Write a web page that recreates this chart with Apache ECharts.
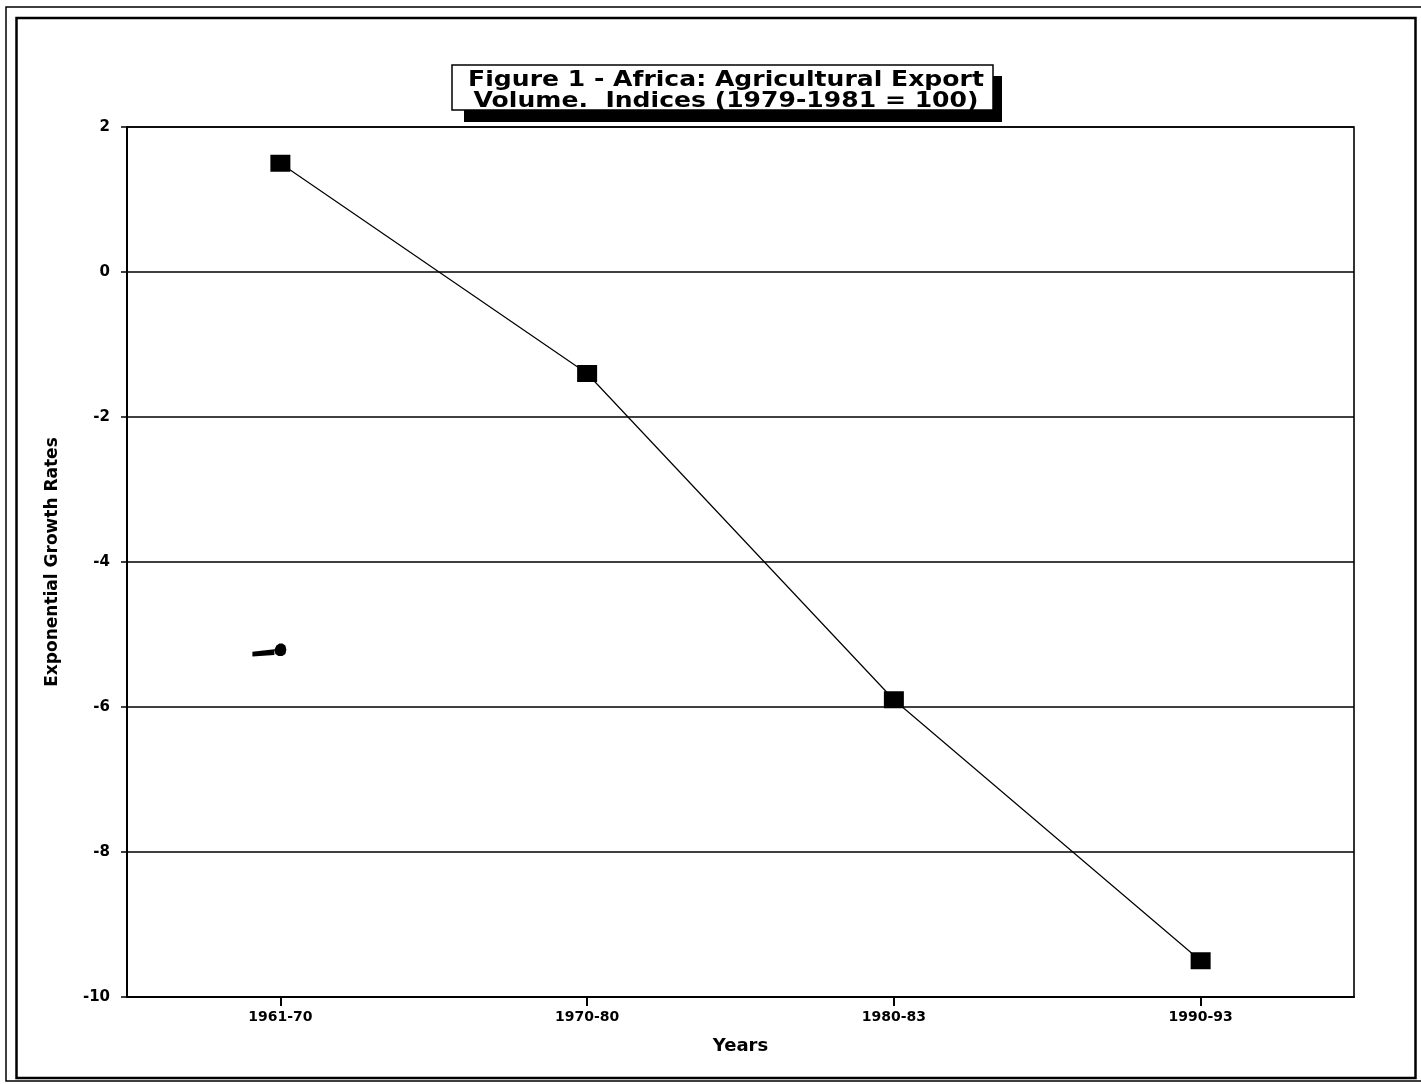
<!DOCTYPE html>
<html>
<head>
<meta charset="utf-8">
<title>Africa: Agricultural Export Volume</title>
<script src="https://cdn.jsdelivr.net/npm/echarts@6/dist/echarts.min.js"></script>
<style>
  html, body { margin: 0; padding: 0; background: #fff; }
  #chart { width: 1421px; height: 1084px; }
</style>
</head>
<body>
<div id="chart"></div>
<script>
// Periods on the horizontal axis
const periods = ['1961-70', '1970-80', '1980-83', '1990-93'];
// Exponential growth rates of agricultural export volume (%)
const growthRates = [1.5, -1.4, -5.9, -9.5];
// Stray pen mark near the first period
const strayMark = [-5.2, null, null, null];
// Value axis range and step
const yMin = -10;
const yMax = 2;
const yStep = 2;

const FONT = '"DejaVu Sans", "Liberation Sans", Arial, sans-serif';
const chart = echarts.init(document.getElementById('chart'), null, { renderer: 'canvas' });

const option = {
  backgroundColor: '#ffffff',
  animation: false,
  grid: {
    left: 127, top: 127, right: 67, bottom: 87,
    show: true, borderColor: '#000', borderWidth: 1.6, backgroundColor: 'transparent'
  },
  xAxis: {
    type: 'category',
    data: periods,
    boundaryGap: true,
    name: 'Years',
    nameLocation: 'middle',
    nameGap: 40,
    nameTextStyle: { fontFamily: FONT, fontWeight: 'bold', fontSize: 18, color: '#000' },
    axisLine: { show: true, onZero: false, lineStyle: { color: '#000', width: 2 } },
    axisTick: { show: true, alignWithLabel: true, inside: false, length: 9, lineStyle: { color: '#000', width: 2 } },
    axisLabel: { fontFamily: FONT, fontWeight: 'bold', fontSize: 14, color: '#000', margin: 13 },
    splitLine: { show: false }
  },
  yAxis: {
    type: 'value',
    min: yMin, max: yMax, interval: yStep,
    name: 'Exponential Growth Rates',
    nameLocation: 'middle',
    nameGap: 66,
    nameRotate: 90,
    nameTextStyle: { fontFamily: FONT, fontWeight: 'bold', fontSize: 17, color: '#000' },
    axisLine: { show: true, onZero: false, lineStyle: { color: '#000', width: 2 } },
    axisTick: { show: true, inside: false, length: 6, lineStyle: { color: '#000', width: 1.5 } },
    axisLabel: { fontFamily: FONT, fontWeight: 'bold', fontSize: 15, color: '#000', margin: 17 },
    splitLine: { show: true, lineStyle: { color: '#000', width: 1.6 } }
  },
  graphic: [
    // outer double frame
    { type: 'rect', z: 0, silent: true,
      shape: { x: 6, y: 7, width: 1420, height: 1074 },
      style: { fill: 'none', stroke: '#000', lineWidth: 1.5 } },
    { type: 'rect', z: 0, silent: true,
      shape: { x: 16.5, y: 18, width: 1399, height: 1060 },
      style: { fill: 'none', stroke: '#000', lineWidth: 2.5 } },
    // title box shadow
    { type: 'rect', z: 10, silent: true,
      shape: { x: 464, y: 76, width: 538, height: 46 },
      style: { fill: '#000' } },
    // title box
    { type: 'rect', z: 11, silent: true,
      shape: { x: 452, y: 65, width: 541, height: 45 },
      style: { fill: '#fff', stroke: '#000', lineWidth: 1.5 } },
    // title text, widened to fill the box
    { type: 'text', z: 12, silent: true,
      x: 726, y: 70, scaleX: 1.14, scaleY: 1,
      style: {
        text: 'Figure 1 - Africa: Agricultural Export\nVolume.  Indices (1979-1981 = 100)',
        fontFamily: FONT, fontWeight: 'bold', fontSize: 22, lineHeight: 21,
        fill: '#000', align: 'center', verticalAlign: 'top'
      } }
  ],
  series: [
    {
      name: 'Growth rate',
      type: 'line',
      data: growthRates,
      symbol: 'rect',
      symbolSize: [20, 17],
      lineStyle: { color: '#000', width: 1.2 },
      itemStyle: { color: '#000' },
      z: 5
    },
    {
      name: 'Mark',
      type: 'line',
      data: strayMark,
      showSymbol: true,
      symbol: 'path://M0,8 L22,5.5 L22,11 L0,12.5 Z M22,6 L24,2 L27,0 L30,0 L33,2 L34,6 L33,10 L30,12 L26,12 L23,10 Z',
      symbolSize: [34, 13],
      symbolKeepAspect: false,
      symbolOffset: [-11, 1],
      lineStyle: { width: 0 },
      itemStyle: { color: '#000' },
      z: 5
    }
  ]
};

chart.setOption(option);
</script>
</body>
</html>
